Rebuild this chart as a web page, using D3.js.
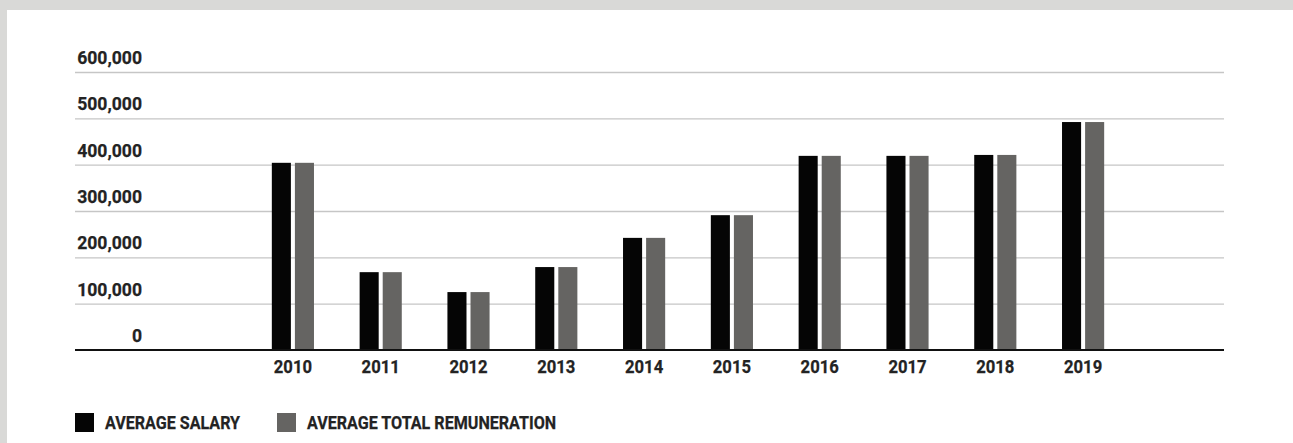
<!DOCTYPE html>
<html><head><meta charset="utf-8">
<script src="https://cdn.jsdelivr.net/npm/d3@7"></script>
<style>
html,body{margin:0;padding:0;background:#d9d9d7;}
svg{display:block;}
text{font-family:Roboto, "Noto Sans", sans-serif;font-weight:700;fill:#232323;}
</style></head>
<body>
<svg id="chart" width="1293" height="443"></svg>
<script>
const years = ["2010","2011","2012","2013","2014","2015","2016","2017","2018","2019"];
const averageSalary = [404000,168000,125000,179000,242000,291000,419000,419000,421000,492000];
const averageTotalRemuneration = [404000,168000,125000,179000,242000,291000,419000,419000,421000,492000];
const yTicks = [0,100000,200000,300000,400000,500000,600000];
const seriesNames = ["AVERAGE SALARY","AVERAGE TOTAL REMUNERATION"];
const seriesColors = ["#050505","#656462"];

const svg = d3.select("#chart");
svg.append("rect").attr("x",0).attr("y",0).attr("width",1293).attr("height",443).attr("fill","#d9d9d7");
svg.append("rect").attr("x",7).attr("y",10).attr("width",1286).attr("height",433).attr("fill","#ffffff");

function condense(sel, f){
  sel.each(function(){
    const l = this.getComputedTextLength();
    d3.select(this).attr("textLength", l*f).attr("lengthAdjust","spacingAndGlyphs");
  });
}

const gridX0 = 75, gridX1 = 1224;
const y = d3.scaleLinear().domain([0,600000]).range([350,72]);
const x = d3.scaleBand().domain(years).range([249,1127]).paddingInner(0.52).paddingOuter(0.26);
const xs = d3.scaleBand().domain([0,1]).range([0,x.bandwidth()]).paddingInner(0.174).paddingOuter(0);

// gridlines via axis
const gAxis = svg.append("g").attr("transform",`translate(${gridX1},0)`)
  .call(d3.axisLeft(y).tickValues(yTicks.filter(d=>d>0)).tickSize(gridX1-gridX0).tickFormat(""));
gAxis.select(".domain").remove();
gAxis.selectAll(".tick line").attr("stroke","#c6c6c6").attr("stroke-width",1.3);

// y labels
const ylab = svg.append("g").selectAll("text").data(yTicks).join("text")
  .attr("x",142).attr("y",d=>y(d)-8).attr("text-anchor","end")
  .attr("font-size",18.5).attr("stroke","#232323").attr("stroke-width",0.25)
  .text(d=>d3.format(",")(d));
condense(ylab, 0.95);

// bars
const series = [averageSalary, averageTotalRemuneration];
series.forEach((vals,si)=>{
  svg.append("g").selectAll("rect").data(vals).join("rect")
    .attr("x",(d,i)=>x(years[i])+xs(si))
    .attr("width",xs.bandwidth())
    .attr("y",d=>y(d))
    .attr("height",d=>y(0)-y(d))
    .attr("fill",seriesColors[si]);
});

// baseline axis
svg.append("line").attr("x1",gridX0).attr("x2",gridX1).attr("y1",y(0)).attr("y2",y(0))
  .attr("stroke","#111").attr("stroke-width",2);

// x labels via axis
const gx = svg.append("g").attr("transform",`translate(0,${y(0)})`)
  .call(d3.axisBottom(x).tickSize(0).tickPadding(0));
gx.select(".domain").remove();
gx.selectAll(".tick text").attr("dy",null).attr("y",22.7).attr("font-size",18.5)
  .attr("fill","#232323").attr("stroke","#232323").attr("stroke-width",0.25)
  .attr("font-family","Roboto").attr("font-weight",700);
condense(gx.selectAll(".tick text"), 0.9);

// legend
const legX = [75,277];
const lg = svg.append("g");
seriesNames.forEach((n,i)=>{
  lg.append("rect").attr("x",legX[i]).attr("y",413).attr("width",19).attr("height",19).attr("fill",seriesColors[i]);
  const t = lg.append("text").attr("x",legX[i]+30).attr("y",429).attr("font-size",18.5)
    .attr("stroke","#232323").attr("stroke-width",0.25).text(n);
  condense(t, 0.87);
});
</script>
</body></html>
